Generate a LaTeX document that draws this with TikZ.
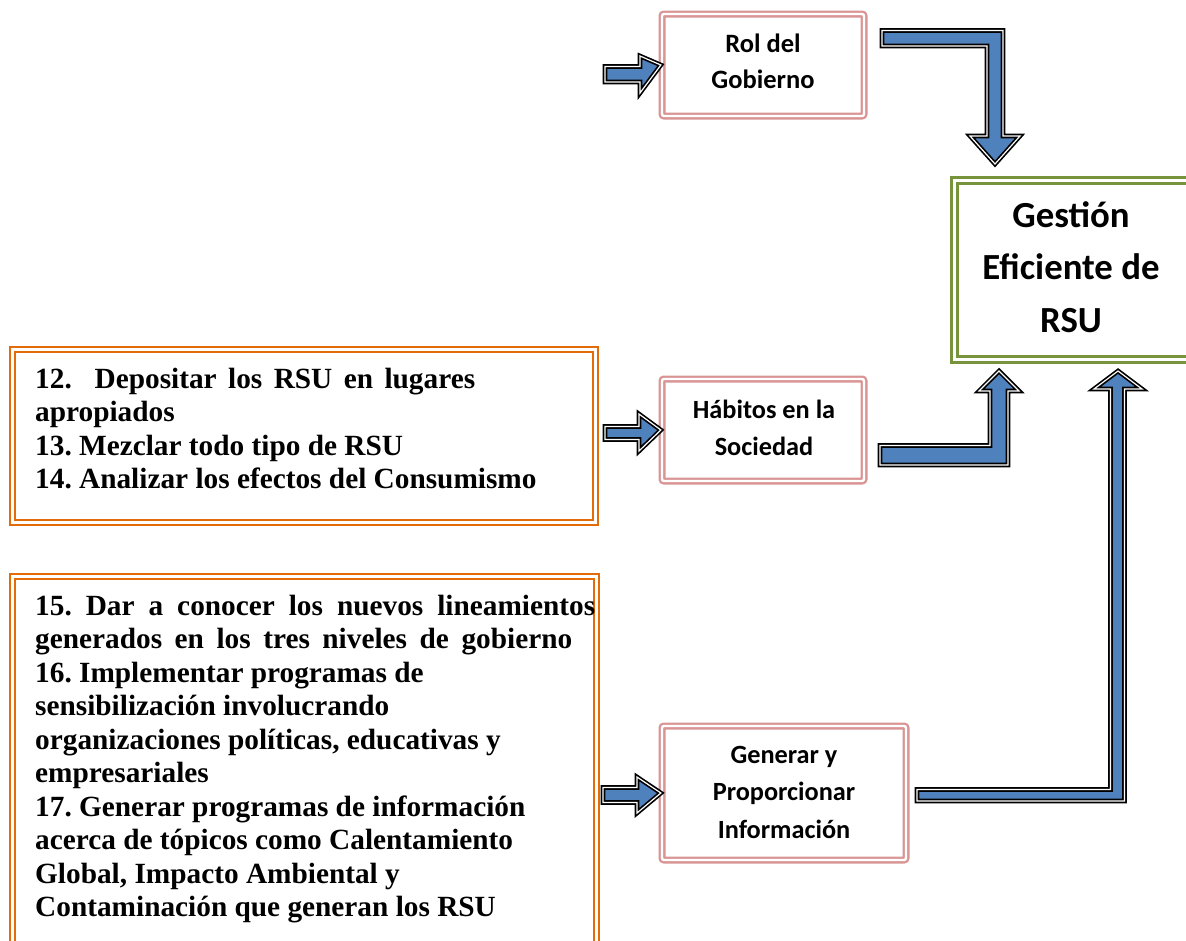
\documentclass[tikz,border=0pt]{standalone}
\usepackage{fontspec}
\setmainfont{Liberation Serif}
\newfontfamily\calfont{Carlito}
\definecolor{pinkc}{HTML}{D99594}
\definecolor{orangec}{HTML}{E36C09}
\definecolor{greenc}{HTML}{77933C}
\definecolor{bluec}{HTML}{4F81BD}
\frenchspacing
\begin{document}
\begin{tikzpicture}[x=1pt,y=-1pt,
  pinkbox/.style={draw=pinkc,double=white,line width=2.3pt,double distance=2.4pt,rounded corners=2pt,inner sep=0pt},
  orangebox/.style={draw=orangec,double=white,line width=2.1pt,double distance=2.6pt,inner sep=0pt},
  greenbox/.style={draw=greenc,double=white,line width=3pt,double distance=2.3pt,inner sep=0pt},
  blockarrow/.style={fill=bluec,draw=black,double=white,line width=1.7pt,double distance=1.2pt,line join=miter,miter limit=4},
  ctext/.style={inner sep=0pt,anchor=base},
  ltext/.style={inner sep=0pt,anchor=base west}
]
\useasboundingbox (0,0) rectangle (1186,940);
\clip (0,0) rectangle (1186,940);

% boxes
\node[pinkbox,minimum width=202,minimum height=102] (rol) at (763,65) {};
\node[pinkbox,minimum width=202,minimum height=102] (hab) at (763,430) {};
\node[pinkbox,minimum width=244,minimum height=134] (gen) at (784,793) {};
\node[greenbox,minimum width=242,minimum height=179,anchor=north west] (gest) at (953,179) {};
\node[orangebox,minimum width=583,minimum height=173,anchor=north west] (b1) at (11.5,348.5) {};
\node[orangebox,minimum width=584,minimum height=390,anchor=north west] (b2) at (11.5,575.5) {};

% box texts
\node[ctext] (roltxt) at (763,52) {\parbox[t]{200pt}{\centering\calfont\bfseries\fontsize{26.5}{36}\selectfont Rol del\\Gobierno}};
\node[ctext] (habtxt) at (764,418) {\parbox[t]{200pt}{\centering\calfont\bfseries\fontsize{26.3}{37}\selectfont Hábitos en la\\Sociedad}};
\node[ctext] (gentxt) at (784,763) {\parbox[t]{240pt}{\centering\calfont\bfseries\fontsize{26.3}{37.5}\selectfont Generar y\\Proporcionar\\Información}};
\node[ctext] (gesttxt) at (1071,227) {\parbox[t]{230pt}{\centering\calfont\bfseries\fontsize{36.8}{52.5}\selectfont Gestión\\Eficiente de\\RSU}};

\node[ltext] (b1txt) at (35,388) {\parbox[t]{570pt}{\raggedright\bfseries\fontsize{29.3}{33.5}\selectfont
\makebox[440pt][s]{12.\ \ Depositar los RSU en lugares}\\
apropiados\\
13. Mezclar todo tipo de RSU\\
14. Analizar los efectos del Consumismo}};
\node[ltext] (b2txt) at (35,615) {\parbox[t]{570pt}{\raggedright\bfseries\fontsize{29.3}{33.5}\selectfont
\makebox[560pt][s]{15. Dar a conocer los nuevos lineamientos}\\
\makebox[537pt][s]{generados en los tres niveles de gobierno}\\
16. Implementar programas de\\
sensibilización involucrando\\
organizaciones políticas, educativas y\\
empresariales\\
17. Generar programas de información\\
acerca de tópicos como Calentamiento\\
Global, Impacto Ambiental y\\
Contaminación que generan los RSU}};

% small straight arrows into the pink boxes
\draw[blockarrow] (605,66.5) -- (640,66.5) -- (640,56) -- (rol.west) -- (640,93) -- (640,82) -- (605,82) -- cycle;
\draw[blockarrow] (605,426.5) -- (639,426.5) -- (639,414) -- (hab.west) -- (639,451) -- (639,439.5) -- (605,439.5) -- cycle;
\draw[blockarrow] (603,787.5) -- (637,787.5) -- (637,777) -- (gen.west) -- (637,813) -- (637,802.5) -- (603,802.5) -- cycle;

% bent arrows into the green box
\coordinate (t1) at (995,164);
\draw[blockarrow] (882,30.5) -- (1003,30.5) -- (1003,136) -- (1020,136) -- (t1) -- (970,136) -- (987,136) -- (987,46) -- (882,46) -- cycle;
\coordinate (t2) at (999,371);
\draw[blockarrow] (880,445.5) -- (990,445.5) -- (990,391) -- (979,391) -- (t2) -- (1019,391) -- (1008,391) -- (1008,465) -- (880,465) -- cycle;
\coordinate (t3) at (1118,371);
\draw[blockarrow] (917,789.5) -- (1110.5,789.5) -- (1110.5,389) -- (1094,389) -- (t3) -- (1142,389) -- (1124.5,389) -- (1124.5,801) -- (917,801) -- cycle;
\end{tikzpicture}
\end{document}
